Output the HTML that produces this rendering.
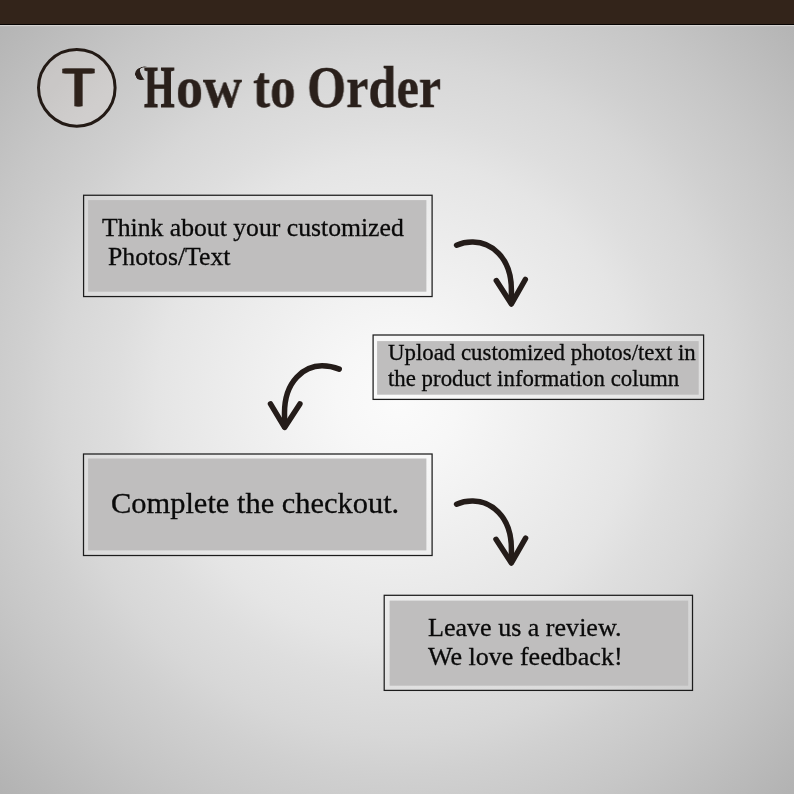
<!DOCTYPE html>
<html lang="en">
<head>
<meta charset="utf-8">
<title>How to Order</title>
<style>
html,body{margin:0;padding:0;}
body{width:794px;height:794px;overflow:hidden;position:relative;font-family:"Liberation Serif",serif;color:#0a0a0a;
background:#d0d0d0;}
#bg{position:absolute;left:0;top:0;width:794px;height:794px;
background:radial-gradient(circle 561px at 397px 400px,#fbfbfb 0%,#f7f7f7 10.7%,#ececec 30.7%,#e5e5e5 42.8%,#dedede 50%,#d7d7d7 60%,#d0d0d0 66.8%,#c6c6c6 78.6%,#b6b6b6 95.4%,#b2b2b2 100%);}
#bar{position:absolute;left:0;top:0;width:794px;height:25px;background:#33241a;border-bottom:1px solid #070403;box-sizing:border-box;box-shadow:0 1px 1px rgba(235,232,228,.55);}
.txt{position:absolute;white-space:nowrap;line-height:1;will-change:transform;-webkit-text-stroke:.3px #0a0a0a;}
#title{position:absolute;left:0;top:58.7px;font-weight:bold;font-size:58.2px;line-height:1;white-space:nowrap;color:#2a201b;}
#title .w{position:absolute;top:0;will-change:transform;transform-origin:0 0;transform:scaleX(.877);-webkit-text-stroke:.35px #2a201b;}
svg{position:absolute;left:0;top:0;}
#swash{position:absolute;left:135.2px;top:68.2px;width:16px;height:12.5px;box-sizing:border-box;border-radius:50%;border-style:solid;border-color:#2a201b transparent transparent #2a201b;border-width:1.7px 0 0 6px;transform:rotate(-22deg);transform-origin:30% 50%;}
#logoT{position:absolute;left:48.5px;top:60.5px;width:60px;text-align:center;font-family:"Liberation Sans",sans-serif;font-size:53.6px;line-height:1;color:#2e221b;-webkit-text-stroke:.5px #2e221b;filter:drop-shadow(1.4px 0 0 #2e221b) drop-shadow(-1.4px 0 0 #2e221b);transform:scaleX(.96);}
</style>
</head>
<body>
<div id="bg"></div>
<div id="bar"></div>

<svg width="794" height="794" viewBox="0 0 794 794">
  <defs><filter id="soft" x="-2%" y="-5%" width="104%" height="110%"><feGaussianBlur stdDeviation="0.55"/></filter></defs>
  <circle cx="76.8" cy="87.85" r="38.3" fill="rgba(255,238,232,.13)" stroke="#231a15" stroke-width="3"/>
  <g>
    <rect x="83.6" y="195.25" width="348.50" height="101.30" fill="rgba(255,255,255,.1)" stroke="#1c1c1c" stroke-width="1.25"/>
    <rect x="88.1" y="200.1" width="338.30" height="91.60" fill="#bfbebe" filter="url(#soft)"/>
    <rect x="373.1" y="335.0" width="330.50" height="64.40" fill="rgba(255,255,255,.1)" stroke="#1c1c1c" stroke-width="1.25"/>
    <rect x="377.1" y="341.1" width="321.60" height="53.60" fill="#bfbebe" filter="url(#soft)"/>
    <rect x="83.5" y="454.0" width="348.60" height="101.50" fill="rgba(255,255,255,.1)" stroke="#1c1c1c" stroke-width="1.25"/>
    <rect x="88.1" y="458.5" width="338.30" height="91.90" fill="#bfbebe" filter="url(#soft)"/>
    <rect x="384.2" y="595.3" width="308.30" height="95.10" fill="rgba(255,255,255,.1)" stroke="#1c1c1c" stroke-width="1.25"/>
    <rect x="389.6" y="600.6" width="298.60" height="85.10" fill="#bfbebe" filter="url(#soft)"/>
  </g>
  <g fill="none" stroke="#241c19" stroke-width="5.5" stroke-linecap="round" stroke-linejoin="round">
    <path d="M456.6 245.2 C462 242.8 468 242 473 242.1 C490 242.3 511.4 256 511.4 290 L511.4 303"/>
    <path d="M496.3 280.6 L511.4 304 L525.3 279.5"/>
    <path d="M339.2 369.1 C333 366.6 327 365.8 322 365.8 C305 365.9 284.5 380 284.5 413 L284.6 426.5"/>
    <path d="M270.5 403.9 L284.6 427.4 L299.9 403.9"/>
    <path d="M456.6 504.2 C462 501.8 468 501 473 501.1 C490 501.3 511.4 515 511.4 549 L511.4 562"/>
    <path d="M496 539.3 L511.4 563 L525.6 538.2"/>
  </g>
</svg>

<div id="logoT">T</div>
<div id="swash"></div>
<div id="title"><span class="w" style="left:144px;transform:scaleX(.675);-webkit-text-stroke:1.1px #2a201b;">H</span><span class="w" style="left:176px;transform:scaleX(.93);">ow</span> <span class="w" style="left:253px;">to</span> <span class="w" style="left:306.5px;transform:scaleX(.865);">Order</span></div>

<div class="txt" style="left:101.8px;top:215px;font-size:25.7px;">Think about your customized</div>
<div class="txt" style="left:108.2px;top:244px;font-size:25.7px;">Photos/Text</div>
<div class="txt" style="left:388px;top:342px;font-size:22.85px;">Upload customized photos/text in</div>
<div class="txt" style="left:388.3px;top:368px;font-size:22.85px;">the product information column</div>
<div class="txt" style="left:111.2px;top:487.5px;font-size:30.45px;">Complete the checkout.</div>
<div class="txt" style="left:427.6px;top:615px;font-size:26.05px;">Leave us a review.</div>
<div class="txt" style="left:427.6px;top:644px;font-size:26.05px;">We love feedback!</div>

</body>
</html>
